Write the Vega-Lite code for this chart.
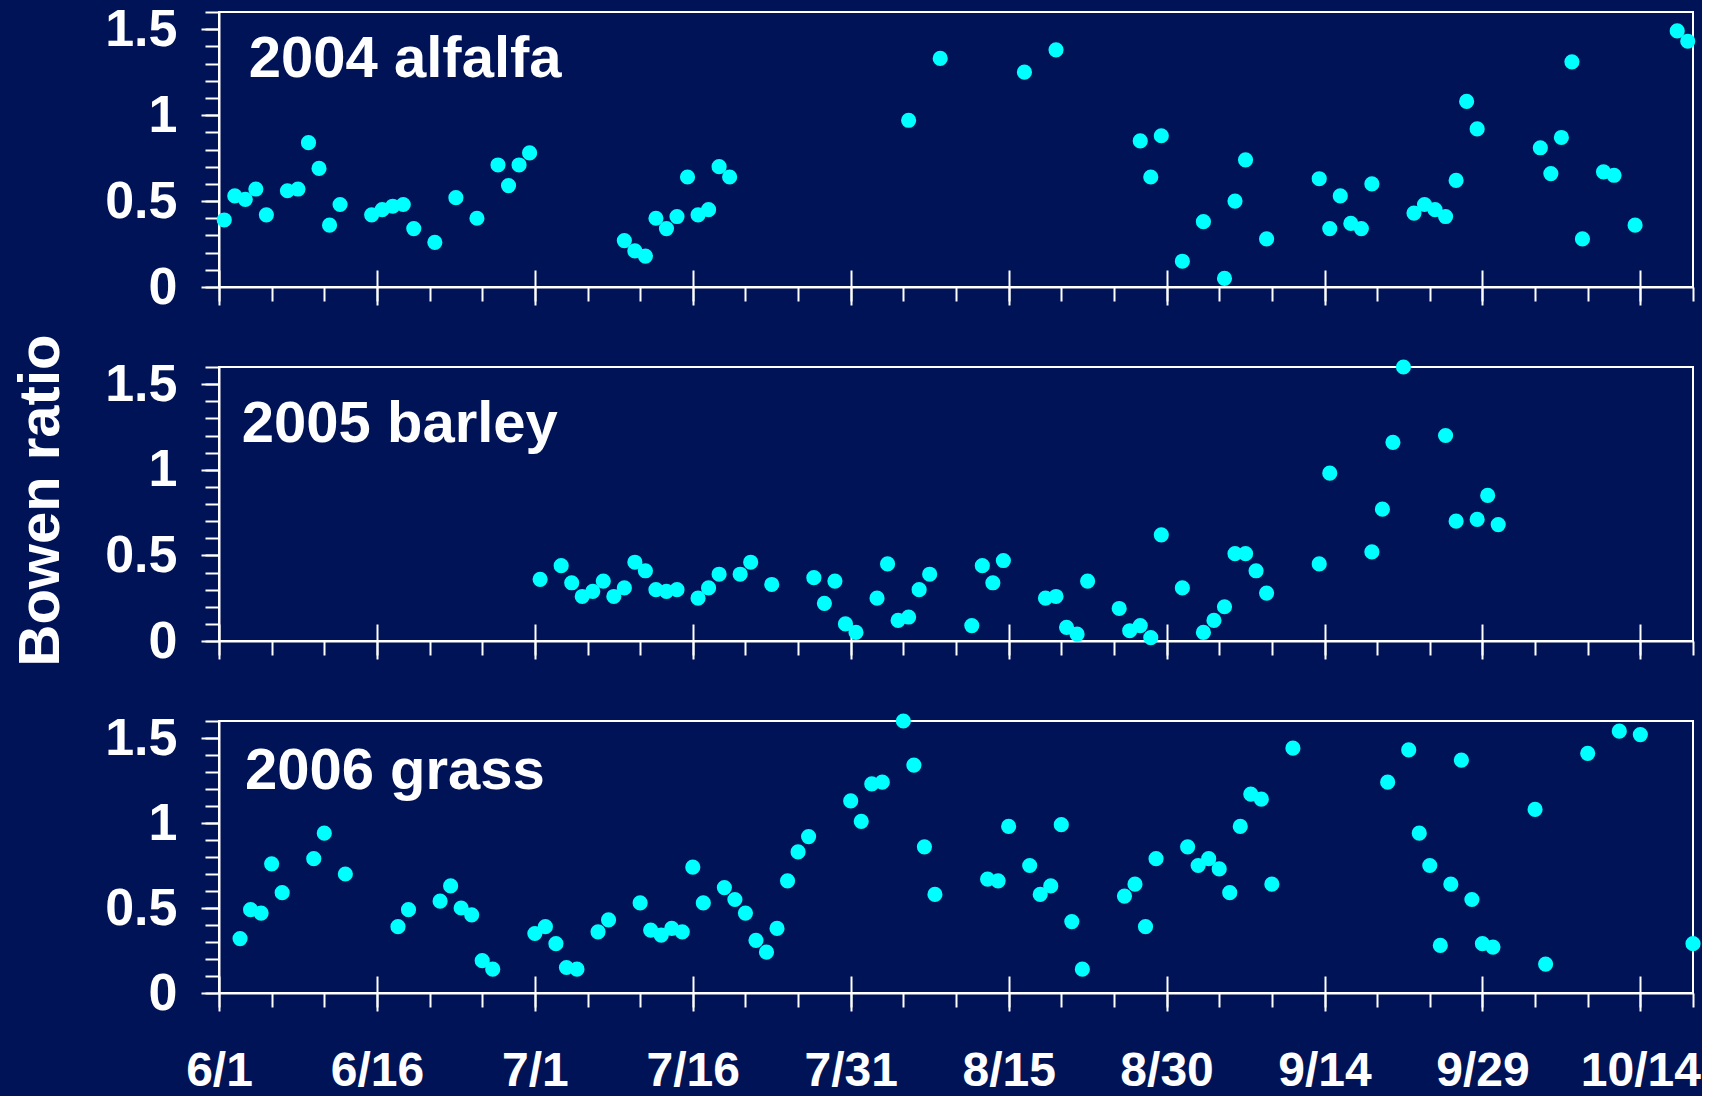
{
  "$schema": "https://vega.github.io/schema/vega-lite/v6.json",
  "background": "#001356",
  "padding": {"left": 11, "top": 2, "right": 0, "bottom": 0},
  "spacing": 80,
  "bounds": "flush",
  "config": {
    "view": {"stroke": "#ffffff", "strokeWidth": 2},
    "axis": {
      "grid": false,
      "domainColor": "#ffffff",
      "domainWidth": 2,
      "tickColor": "#ffffff",
      "tickWidth": 2,
      "labelColor": "#ffffff",
      "labelFont": "Liberation Sans",
      "labelFontWeight": "bold",
      "titleColor": "#ffffff",
      "titleFont": "Liberation Sans",
      "titleFontWeight": "bold",
      "titleFontSize": 58
    },
    "text": {"font": "Liberation Sans", "fontWeight": "bold", "fontSize": 58, "color": "#ffffff", "align": "left", "baseline": "alphabetic"},
    "point": {"filled": true, "size": 230, "color": "#00ffff", "opacity": 1, "strokeWidth": 0}
  },
  "datasets": {
    "alfalfa2004": [
      {"date": "2004-06-01T12:00Z", "ratio": 0.39},
      {"date": "2004-06-02T12:00Z", "ratio": 0.53},
      {"date": "2004-06-03T12:00Z", "ratio": 0.51},
      {"date": "2004-06-04T12:00Z", "ratio": 0.57},
      {"date": "2004-06-05T12:00Z", "ratio": 0.42},
      {"date": "2004-06-07T12:00Z", "ratio": 0.56},
      {"date": "2004-06-08T12:00Z", "ratio": 0.57},
      {"date": "2004-06-09T12:00Z", "ratio": 0.84},
      {"date": "2004-06-10T12:00Z", "ratio": 0.69},
      {"date": "2004-06-11T12:00Z", "ratio": 0.36},
      {"date": "2004-06-12T12:00Z", "ratio": 0.48},
      {"date": "2004-06-15T12:00Z", "ratio": 0.42},
      {"date": "2004-06-16T12:00Z", "ratio": 0.45},
      {"date": "2004-06-17T12:00Z", "ratio": 0.47},
      {"date": "2004-06-18T12:00Z", "ratio": 0.48},
      {"date": "2004-06-19T12:00Z", "ratio": 0.34},
      {"date": "2004-06-21T12:00Z", "ratio": 0.26},
      {"date": "2004-06-23T12:00Z", "ratio": 0.52},
      {"date": "2004-06-25T12:00Z", "ratio": 0.40},
      {"date": "2004-06-27T12:00Z", "ratio": 0.71},
      {"date": "2004-06-28T12:00Z", "ratio": 0.59},
      {"date": "2004-06-29T12:00Z", "ratio": 0.71},
      {"date": "2004-06-30T12:00Z", "ratio": 0.78},
      {"date": "2004-07-09T12:00Z", "ratio": 0.27},
      {"date": "2004-07-10T12:00Z", "ratio": 0.21},
      {"date": "2004-07-11T12:00Z", "ratio": 0.18},
      {"date": "2004-07-12T12:00Z", "ratio": 0.40},
      {"date": "2004-07-13T12:00Z", "ratio": 0.34},
      {"date": "2004-07-14T12:00Z", "ratio": 0.41},
      {"date": "2004-07-15T12:00Z", "ratio": 0.64},
      {"date": "2004-07-16T12:00Z", "ratio": 0.42},
      {"date": "2004-07-17T12:00Z", "ratio": 0.45},
      {"date": "2004-07-18T12:00Z", "ratio": 0.70},
      {"date": "2004-07-19T12:00Z", "ratio": 0.64},
      {"date": "2004-08-05T12:00Z", "ratio": 0.97},
      {"date": "2004-08-08T12:00Z", "ratio": 1.33},
      {"date": "2004-08-16T12:00Z", "ratio": 1.25},
      {"date": "2004-08-19T12:00Z", "ratio": 1.38},
      {"date": "2004-08-27T12:00Z", "ratio": 0.85},
      {"date": "2004-08-28T12:00Z", "ratio": 0.64},
      {"date": "2004-08-29T12:00Z", "ratio": 0.88},
      {"date": "2004-08-31T12:00Z", "ratio": 0.15},
      {"date": "2004-09-02T12:00Z", "ratio": 0.38},
      {"date": "2004-09-04T12:00Z", "ratio": 0.05},
      {"date": "2004-09-05T12:00Z", "ratio": 0.50},
      {"date": "2004-09-06T12:00Z", "ratio": 0.74},
      {"date": "2004-09-08T12:00Z", "ratio": 0.28},
      {"date": "2004-09-13T12:00Z", "ratio": 0.63},
      {"date": "2004-09-14T12:00Z", "ratio": 0.34},
      {"date": "2004-09-15T12:00Z", "ratio": 0.53},
      {"date": "2004-09-16T12:00Z", "ratio": 0.37},
      {"date": "2004-09-17T12:00Z", "ratio": 0.34},
      {"date": "2004-09-18T12:00Z", "ratio": 0.60},
      {"date": "2004-09-22T12:00Z", "ratio": 0.43},
      {"date": "2004-09-23T12:00Z", "ratio": 0.48},
      {"date": "2004-09-24T12:00Z", "ratio": 0.45},
      {"date": "2004-09-25T12:00Z", "ratio": 0.41},
      {"date": "2004-09-26T12:00Z", "ratio": 0.62},
      {"date": "2004-09-27T12:00Z", "ratio": 1.08},
      {"date": "2004-09-28T12:00Z", "ratio": 0.92},
      {"date": "2004-10-04T12:00Z", "ratio": 0.81},
      {"date": "2004-10-05T12:00Z", "ratio": 0.66},
      {"date": "2004-10-06T12:00Z", "ratio": 0.87},
      {"date": "2004-10-07T12:00Z", "ratio": 1.31},
      {"date": "2004-10-08T12:00Z", "ratio": 0.28},
      {"date": "2004-10-10T12:00Z", "ratio": 0.67},
      {"date": "2004-10-11T12:00Z", "ratio": 0.65},
      {"date": "2004-10-13T12:00Z", "ratio": 0.36},
      {"date": "2004-10-17T12:00Z", "ratio": 1.49},
      {"date": "2004-10-18T12:00Z", "ratio": 1.43}
    ],
    "barley2005": [
      {"date": "2005-07-01T12:00Z", "ratio": 0.36},
      {"date": "2005-07-03T12:00Z", "ratio": 0.44},
      {"date": "2005-07-04T12:00Z", "ratio": 0.34},
      {"date": "2005-07-05T12:00Z", "ratio": 0.26},
      {"date": "2005-07-06T12:00Z", "ratio": 0.29},
      {"date": "2005-07-07T12:00Z", "ratio": 0.35},
      {"date": "2005-07-08T12:00Z", "ratio": 0.26},
      {"date": "2005-07-09T12:00Z", "ratio": 0.31},
      {"date": "2005-07-10T12:00Z", "ratio": 0.46},
      {"date": "2005-07-11T12:00Z", "ratio": 0.41},
      {"date": "2005-07-12T12:00Z", "ratio": 0.30},
      {"date": "2005-07-13T12:00Z", "ratio": 0.29},
      {"date": "2005-07-14T12:00Z", "ratio": 0.30},
      {"date": "2005-07-16T12:00Z", "ratio": 0.25},
      {"date": "2005-07-17T12:00Z", "ratio": 0.31},
      {"date": "2005-07-18T12:00Z", "ratio": 0.39},
      {"date": "2005-07-20T12:00Z", "ratio": 0.39},
      {"date": "2005-07-21T12:00Z", "ratio": 0.46},
      {"date": "2005-07-23T12:00Z", "ratio": 0.33},
      {"date": "2005-07-27T12:00Z", "ratio": 0.37},
      {"date": "2005-07-28T12:00Z", "ratio": 0.22},
      {"date": "2005-07-29T12:00Z", "ratio": 0.35},
      {"date": "2005-07-30T12:00Z", "ratio": 0.10},
      {"date": "2005-07-31T12:00Z", "ratio": 0.05},
      {"date": "2005-08-02T12:00Z", "ratio": 0.25},
      {"date": "2005-08-03T12:00Z", "ratio": 0.45},
      {"date": "2005-08-04T12:00Z", "ratio": 0.12},
      {"date": "2005-08-05T12:00Z", "ratio": 0.14},
      {"date": "2005-08-06T12:00Z", "ratio": 0.30},
      {"date": "2005-08-07T12:00Z", "ratio": 0.39},
      {"date": "2005-08-11T12:00Z", "ratio": 0.09},
      {"date": "2005-08-12T12:00Z", "ratio": 0.44},
      {"date": "2005-08-13T12:00Z", "ratio": 0.34},
      {"date": "2005-08-14T12:00Z", "ratio": 0.47},
      {"date": "2005-08-18T12:00Z", "ratio": 0.25},
      {"date": "2005-08-19T12:00Z", "ratio": 0.26},
      {"date": "2005-08-20T12:00Z", "ratio": 0.08},
      {"date": "2005-08-21T12:00Z", "ratio": 0.04},
      {"date": "2005-08-22T12:00Z", "ratio": 0.35},
      {"date": "2005-08-25T12:00Z", "ratio": 0.19},
      {"date": "2005-08-26T12:00Z", "ratio": 0.06},
      {"date": "2005-08-27T12:00Z", "ratio": 0.09},
      {"date": "2005-08-28T12:00Z", "ratio": 0.02},
      {"date": "2005-08-29T12:00Z", "ratio": 0.62},
      {"date": "2005-08-31T12:00Z", "ratio": 0.31},
      {"date": "2005-09-02T12:00Z", "ratio": 0.05},
      {"date": "2005-09-03T12:00Z", "ratio": 0.12},
      {"date": "2005-09-04T12:00Z", "ratio": 0.20},
      {"date": "2005-09-05T12:00Z", "ratio": 0.51},
      {"date": "2005-09-06T12:00Z", "ratio": 0.51},
      {"date": "2005-09-07T12:00Z", "ratio": 0.41},
      {"date": "2005-09-08T12:00Z", "ratio": 0.28},
      {"date": "2005-09-13T12:00Z", "ratio": 0.45},
      {"date": "2005-09-14T12:00Z", "ratio": 0.98},
      {"date": "2005-09-18T12:00Z", "ratio": 0.52},
      {"date": "2005-09-19T12:00Z", "ratio": 0.77},
      {"date": "2005-09-20T12:00Z", "ratio": 1.16},
      {"date": "2005-09-21T12:00Z", "ratio": 1.60},
      {"date": "2005-09-25T12:00Z", "ratio": 1.20},
      {"date": "2005-09-26T12:00Z", "ratio": 0.70},
      {"date": "2005-09-28T12:00Z", "ratio": 0.71},
      {"date": "2005-09-29T12:00Z", "ratio": 0.85},
      {"date": "2005-09-30T12:00Z", "ratio": 0.68}
    ],
    "grass2006": [
      {"date": "2006-06-03T00:00Z", "ratio": 0.32},
      {"date": "2006-06-04T00:00Z", "ratio": 0.49},
      {"date": "2006-06-05T00:00Z", "ratio": 0.47},
      {"date": "2006-06-06T00:00Z", "ratio": 0.76},
      {"date": "2006-06-07T00:00Z", "ratio": 0.59},
      {"date": "2006-06-10T00:00Z", "ratio": 0.79},
      {"date": "2006-06-11T00:00Z", "ratio": 0.94},
      {"date": "2006-06-13T00:00Z", "ratio": 0.70},
      {"date": "2006-06-18T00:00Z", "ratio": 0.39},
      {"date": "2006-06-19T00:00Z", "ratio": 0.49},
      {"date": "2006-06-22T00:00Z", "ratio": 0.54},
      {"date": "2006-06-23T00:00Z", "ratio": 0.63},
      {"date": "2006-06-24T00:00Z", "ratio": 0.50},
      {"date": "2006-06-25T00:00Z", "ratio": 0.46},
      {"date": "2006-06-26T00:00Z", "ratio": 0.19},
      {"date": "2006-06-27T00:00Z", "ratio": 0.14},
      {"date": "2006-07-01T00:00Z", "ratio": 0.35},
      {"date": "2006-07-02T00:00Z", "ratio": 0.39},
      {"date": "2006-07-03T00:00Z", "ratio": 0.29},
      {"date": "2006-07-04T00:00Z", "ratio": 0.15},
      {"date": "2006-07-05T00:00Z", "ratio": 0.14},
      {"date": "2006-07-07T00:00Z", "ratio": 0.36},
      {"date": "2006-07-08T00:00Z", "ratio": 0.43},
      {"date": "2006-07-11T00:00Z", "ratio": 0.53},
      {"date": "2006-07-12T00:00Z", "ratio": 0.37},
      {"date": "2006-07-13T00:00Z", "ratio": 0.34},
      {"date": "2006-07-14T00:00Z", "ratio": 0.38},
      {"date": "2006-07-15T00:00Z", "ratio": 0.36},
      {"date": "2006-07-16T00:00Z", "ratio": 0.74},
      {"date": "2006-07-17T00:00Z", "ratio": 0.53},
      {"date": "2006-07-19T00:00Z", "ratio": 0.62},
      {"date": "2006-07-20T00:00Z", "ratio": 0.55},
      {"date": "2006-07-21T00:00Z", "ratio": 0.47},
      {"date": "2006-07-22T00:00Z", "ratio": 0.31},
      {"date": "2006-07-23T00:00Z", "ratio": 0.24},
      {"date": "2006-07-24T00:00Z", "ratio": 0.38},
      {"date": "2006-07-25T00:00Z", "ratio": 0.66},
      {"date": "2006-07-26T00:00Z", "ratio": 0.83},
      {"date": "2006-07-27T00:00Z", "ratio": 0.92},
      {"date": "2006-07-31T00:00Z", "ratio": 1.13},
      {"date": "2006-08-01T00:00Z", "ratio": 1.01},
      {"date": "2006-08-02T00:00Z", "ratio": 1.23},
      {"date": "2006-08-03T00:00Z", "ratio": 1.24},
      {"date": "2006-08-05T00:00Z", "ratio": 1.60},
      {"date": "2006-08-06T00:00Z", "ratio": 1.34},
      {"date": "2006-08-07T00:00Z", "ratio": 0.86},
      {"date": "2006-08-08T00:00Z", "ratio": 0.58},
      {"date": "2006-08-13T00:00Z", "ratio": 0.67},
      {"date": "2006-08-14T00:00Z", "ratio": 0.66},
      {"date": "2006-08-15T00:00Z", "ratio": 0.98},
      {"date": "2006-08-17T00:00Z", "ratio": 0.75},
      {"date": "2006-08-18T00:00Z", "ratio": 0.58},
      {"date": "2006-08-19T00:00Z", "ratio": 0.63},
      {"date": "2006-08-20T00:00Z", "ratio": 0.99},
      {"date": "2006-08-21T00:00Z", "ratio": 0.42},
      {"date": "2006-08-22T00:00Z", "ratio": 0.14},
      {"date": "2006-08-26T00:00Z", "ratio": 0.57},
      {"date": "2006-08-27T00:00Z", "ratio": 0.64},
      {"date": "2006-08-28T00:00Z", "ratio": 0.39},
      {"date": "2006-08-29T00:00Z", "ratio": 0.79},
      {"date": "2006-09-01T00:00Z", "ratio": 0.86},
      {"date": "2006-09-02T00:00Z", "ratio": 0.75},
      {"date": "2006-09-03T00:00Z", "ratio": 0.79},
      {"date": "2006-09-04T00:00Z", "ratio": 0.73},
      {"date": "2006-09-05T00:00Z", "ratio": 0.59},
      {"date": "2006-09-06T00:00Z", "ratio": 0.98},
      {"date": "2006-09-07T00:00Z", "ratio": 1.17},
      {"date": "2006-09-08T00:00Z", "ratio": 1.14},
      {"date": "2006-09-09T00:00Z", "ratio": 0.64},
      {"date": "2006-09-11T00:00Z", "ratio": 1.44},
      {"date": "2006-09-20T00:00Z", "ratio": 1.24},
      {"date": "2006-09-22T00:00Z", "ratio": 1.43},
      {"date": "2006-09-23T00:00Z", "ratio": 0.94},
      {"date": "2006-09-24T00:00Z", "ratio": 0.75},
      {"date": "2006-09-25T00:00Z", "ratio": 0.28},
      {"date": "2006-09-26T00:00Z", "ratio": 0.64},
      {"date": "2006-09-27T00:00Z", "ratio": 1.37},
      {"date": "2006-09-28T00:00Z", "ratio": 0.55},
      {"date": "2006-09-29T00:00Z", "ratio": 0.29},
      {"date": "2006-09-30T00:00Z", "ratio": 0.27},
      {"date": "2006-10-04T00:00Z", "ratio": 1.08},
      {"date": "2006-10-05T00:00Z", "ratio": 0.17},
      {"date": "2006-10-09T00:00Z", "ratio": 1.41},
      {"date": "2006-10-12T00:00Z", "ratio": 1.54},
      {"date": "2006-10-14T00:00Z", "ratio": 1.52},
      {"date": "2006-10-19T00:00Z", "ratio": 0.29}
    ]
  },
  "vconcat": [
    {
      "width": 1474,
      "height": 275,
      "data": {"name": "alfalfa2004"},
      "layer": [
        {
          "mark": "point",
          "encoding": {
            "x": {
              "field": "date", "type": "temporal",
              "scale": {"type": "utc", "nice": false, "domain": [{"year": 2004, "month": 6, "date": 1, "utc": true}, {"year": 2004, "month": 10, "date": 19, "utc": true}]},
              "axis": {
                "orient": "bottom", "title": null, "domain": false, "labels": false,
                "offset": -17, "tickSize": 35,
                "values": [
                  {"year": 2004, "month": 6, "date": 1, "utc": true}, {"year": 2004, "month": 6, "date": 16, "utc": true},
                  {"year": 2004, "month": 7, "date": 1, "utc": true}, {"year": 2004, "month": 7, "date": 16, "utc": true},
                  {"year": 2004, "month": 7, "date": 31, "utc": true}, {"year": 2004, "month": 8, "date": 15, "utc": true},
                  {"year": 2004, "month": 8, "date": 30, "utc": true}, {"year": 2004, "month": 9, "date": 14, "utc": true},
                  {"year": 2004, "month": 9, "date": 29, "utc": true}, {"year": 2004, "month": 10, "date": 14, "utc": true}
                ]
              }
            },
            "y": {
              "field": "ratio", "type": "quantitative",
              "scale": {"domain": [0, 1.6], "nice": false, "zero": false},
              "axis": {"orient": "left", "title": null, "values": [0, 0.5, 1, 1.5], "format": "~g", "tickSize": 18, "labelFontSize": 52, "labelPadding": 24}
            }
          }
        },
        {
          "mark": {"type": "point", "opacity": 0},
          "encoding": {
            "x": {
              "field": "date", "type": "temporal",
              "scale": {"type": "utc", "nice": false, "domain": [{"year": 2004, "month": 6, "date": 1, "utc": true}, {"year": 2004, "month": 10, "date": 19, "utc": true}]},
              "axis": {
                "orient": "bottom", "title": null, "labels": false, "tickSize": 14,
                "values": [
                  {"year": 2004, "month": 6, "date": 1, "utc": true}, {"year": 2004, "month": 6, "date": 6, "utc": true},
                  {"year": 2004, "month": 6, "date": 11, "utc": true}, {"year": 2004, "month": 6, "date": 16, "utc": true},
                  {"year": 2004, "month": 6, "date": 21, "utc": true}, {"year": 2004, "month": 6, "date": 26, "utc": true},
                  {"year": 2004, "month": 7, "date": 1, "utc": true}, {"year": 2004, "month": 7, "date": 6, "utc": true},
                  {"year": 2004, "month": 7, "date": 11, "utc": true}, {"year": 2004, "month": 7, "date": 16, "utc": true},
                  {"year": 2004, "month": 7, "date": 21, "utc": true}, {"year": 2004, "month": 7, "date": 26, "utc": true},
                  {"year": 2004, "month": 7, "date": 31, "utc": true}, {"year": 2004, "month": 8, "date": 5, "utc": true},
                  {"year": 2004, "month": 8, "date": 10, "utc": true}, {"year": 2004, "month": 8, "date": 15, "utc": true},
                  {"year": 2004, "month": 8, "date": 20, "utc": true}, {"year": 2004, "month": 8, "date": 25, "utc": true},
                  {"year": 2004, "month": 8, "date": 30, "utc": true}, {"year": 2004, "month": 9, "date": 4, "utc": true},
                  {"year": 2004, "month": 9, "date": 9, "utc": true}, {"year": 2004, "month": 9, "date": 14, "utc": true},
                  {"year": 2004, "month": 9, "date": 19, "utc": true}, {"year": 2004, "month": 9, "date": 24, "utc": true},
                  {"year": 2004, "month": 9, "date": 29, "utc": true}, {"year": 2004, "month": 10, "date": 4, "utc": true},
                  {"year": 2004, "month": 10, "date": 9, "utc": true}, {"year": 2004, "month": 10, "date": 14, "utc": true},
                  {"year": 2004, "month": 10, "date": 19, "utc": true}
                ]
              }
            },
            "y": {
              "field": "ratio", "type": "quantitative",
              "scale": {"domain": [0, 1.6], "nice": false, "zero": false},
              "axis": {"orient": "left", "title": null, "labels": false, "domain": false, "tickSize": 14, "values": [0, 0.1, 0.2, 0.3, 0.4, 0.5, 0.6, 0.7, 0.8, 0.9, 1, 1.1, 1.2, 1.3, 1.4, 1.5, 1.6]}
            }
          }
        },
        {
          "data": {"values": [{"crop": "2004 alfalfa"}]},
          "mark": "text",
          "encoding": {
            "x": {"datum": {"year": 2004, "month": 6, "date": 3, "hours": 20, "utc": true}, "type": "temporal", "scale": {"type": "utc"}, "axis": null},
            "y": {"datum": 1.22, "type": "quantitative", "axis": null},
            "text": {"field": "crop"}
          }
        }
      ],
      "resolve": {"axis": {"x": "independent", "y": "independent"}}
    },
    {
      "width": 1474,
      "height": 274,
      "data": {"name": "barley2005"},
      "layer": [
        {
          "mark": "point",
          "encoding": {
            "x": {
              "field": "date", "type": "temporal",
              "scale": {"type": "utc", "nice": false, "domain": [{"year": 2005, "month": 6, "date": 1, "utc": true}, {"year": 2005, "month": 10, "date": 19, "utc": true}]},
              "axis": {
                "orient": "bottom", "title": null, "domain": false, "labels": false,
                "offset": -17, "tickSize": 35,
                "values": [
                  {"year": 2005, "month": 6, "date": 1, "utc": true}, {"year": 2005, "month": 6, "date": 16, "utc": true},
                  {"year": 2005, "month": 7, "date": 1, "utc": true}, {"year": 2005, "month": 7, "date": 16, "utc": true},
                  {"year": 2005, "month": 7, "date": 31, "utc": true}, {"year": 2005, "month": 8, "date": 15, "utc": true},
                  {"year": 2005, "month": 8, "date": 30, "utc": true}, {"year": 2005, "month": 9, "date": 14, "utc": true},
                  {"year": 2005, "month": 9, "date": 29, "utc": true}, {"year": 2005, "month": 10, "date": 14, "utc": true}
                ]
              }
            },
            "y": {
              "field": "ratio", "type": "quantitative",
              "scale": {"domain": [0, 1.6], "nice": false, "zero": false},
              "axis": {"orient": "left", "title": "Bowen ratio", "titlePadding": 34, "titleY": 133, "values": [0, 0.5, 1, 1.5], "format": "~g", "tickSize": 18, "labelFontSize": 52, "labelPadding": 24}
            }
          }
        },
        {
          "mark": {"type": "point", "opacity": 0},
          "encoding": {
            "x": {
              "field": "date", "type": "temporal",
              "scale": {"type": "utc", "nice": false, "domain": [{"year": 2005, "month": 6, "date": 1, "utc": true}, {"year": 2005, "month": 10, "date": 19, "utc": true}]},
              "axis": {
                "orient": "bottom", "title": null, "labels": false, "tickSize": 14,
                "values": [
                  {"year": 2005, "month": 6, "date": 1, "utc": true}, {"year": 2005, "month": 6, "date": 6, "utc": true},
                  {"year": 2005, "month": 6, "date": 11, "utc": true}, {"year": 2005, "month": 6, "date": 16, "utc": true},
                  {"year": 2005, "month": 6, "date": 21, "utc": true}, {"year": 2005, "month": 6, "date": 26, "utc": true},
                  {"year": 2005, "month": 7, "date": 1, "utc": true}, {"year": 2005, "month": 7, "date": 6, "utc": true},
                  {"year": 2005, "month": 7, "date": 11, "utc": true}, {"year": 2005, "month": 7, "date": 16, "utc": true},
                  {"year": 2005, "month": 7, "date": 21, "utc": true}, {"year": 2005, "month": 7, "date": 26, "utc": true},
                  {"year": 2005, "month": 7, "date": 31, "utc": true}, {"year": 2005, "month": 8, "date": 5, "utc": true},
                  {"year": 2005, "month": 8, "date": 10, "utc": true}, {"year": 2005, "month": 8, "date": 15, "utc": true},
                  {"year": 2005, "month": 8, "date": 20, "utc": true}, {"year": 2005, "month": 8, "date": 25, "utc": true},
                  {"year": 2005, "month": 8, "date": 30, "utc": true}, {"year": 2005, "month": 9, "date": 4, "utc": true},
                  {"year": 2005, "month": 9, "date": 9, "utc": true}, {"year": 2005, "month": 9, "date": 14, "utc": true},
                  {"year": 2005, "month": 9, "date": 19, "utc": true}, {"year": 2005, "month": 9, "date": 24, "utc": true},
                  {"year": 2005, "month": 9, "date": 29, "utc": true}, {"year": 2005, "month": 10, "date": 4, "utc": true},
                  {"year": 2005, "month": 10, "date": 9, "utc": true}, {"year": 2005, "month": 10, "date": 14, "utc": true},
                  {"year": 2005, "month": 10, "date": 19, "utc": true}
                ]
              }
            },
            "y": {
              "field": "ratio", "type": "quantitative",
              "scale": {"domain": [0, 1.6], "nice": false, "zero": false},
              "axis": {"orient": "left", "title": null, "labels": false, "domain": false, "tickSize": 14, "values": [0, 0.1, 0.2, 0.3, 0.4, 0.5, 0.6, 0.7, 0.8, 0.9, 1, 1.1, 1.2, 1.3, 1.4, 1.5, 1.6]}
            }
          }
        },
        {
          "data": {"values": [{"crop": "2005 barley"}]},
          "mark": "text",
          "encoding": {
            "x": {"datum": {"year": 2005, "month": 6, "date": 3, "hours": 4, "utc": true}, "type": "temporal", "scale": {"type": "utc"}, "axis": null},
            "y": {"datum": 1.16, "type": "quantitative", "axis": null},
            "text": {"field": "crop"}
          }
        }
      ],
      "resolve": {"axis": {"x": "independent", "y": "independent"}}
    },
    {
      "width": 1474,
      "height": 272,
      "data": {"name": "grass2006"},
      "layer": [
        {
          "mark": "point",
          "encoding": {
            "x": {
              "field": "date", "type": "temporal",
              "scale": {"type": "utc", "nice": false, "domain": [{"year": 2006, "month": 6, "date": 1, "utc": true}, {"year": 2006, "month": 10, "date": 19, "utc": true}]},
              "axis": {
                "orient": "bottom", "title": null, "domain": false, "labels": true,
                "offset": -17, "tickSize": 35,
                "labelExpr": "utcFormat(datum.value, '%-m/%-d')",
                "labelFontSize": 48, "labelPadding": 36, "labelFlush": false, "labelOverlap": false,
                "values": [
                  {"year": 2006, "month": 6, "date": 1, "utc": true}, {"year": 2006, "month": 6, "date": 16, "utc": true},
                  {"year": 2006, "month": 7, "date": 1, "utc": true}, {"year": 2006, "month": 7, "date": 16, "utc": true},
                  {"year": 2006, "month": 7, "date": 31, "utc": true}, {"year": 2006, "month": 8, "date": 15, "utc": true},
                  {"year": 2006, "month": 8, "date": 30, "utc": true}, {"year": 2006, "month": 9, "date": 14, "utc": true},
                  {"year": 2006, "month": 9, "date": 29, "utc": true}, {"year": 2006, "month": 10, "date": 14, "utc": true}
                ]
              }
            },
            "y": {
              "field": "ratio", "type": "quantitative",
              "scale": {"domain": [0, 1.6], "nice": false, "zero": false},
              "axis": {"orient": "left", "title": null, "values": [0, 0.5, 1, 1.5], "format": "~g", "tickSize": 18, "labelFontSize": 52, "labelPadding": 24}
            }
          }
        },
        {
          "mark": {"type": "point", "opacity": 0},
          "encoding": {
            "x": {
              "field": "date", "type": "temporal",
              "scale": {"type": "utc", "nice": false, "domain": [{"year": 2006, "month": 6, "date": 1, "utc": true}, {"year": 2006, "month": 10, "date": 19, "utc": true}]},
              "axis": {
                "orient": "bottom", "title": null, "labels": false, "tickSize": 14,
                "values": [
                  {"year": 2006, "month": 6, "date": 1, "utc": true}, {"year": 2006, "month": 6, "date": 6, "utc": true},
                  {"year": 2006, "month": 6, "date": 11, "utc": true}, {"year": 2006, "month": 6, "date": 16, "utc": true},
                  {"year": 2006, "month": 6, "date": 21, "utc": true}, {"year": 2006, "month": 6, "date": 26, "utc": true},
                  {"year": 2006, "month": 7, "date": 1, "utc": true}, {"year": 2006, "month": 7, "date": 6, "utc": true},
                  {"year": 2006, "month": 7, "date": 11, "utc": true}, {"year": 2006, "month": 7, "date": 16, "utc": true},
                  {"year": 2006, "month": 7, "date": 21, "utc": true}, {"year": 2006, "month": 7, "date": 26, "utc": true},
                  {"year": 2006, "month": 7, "date": 31, "utc": true}, {"year": 2006, "month": 8, "date": 5, "utc": true},
                  {"year": 2006, "month": 8, "date": 10, "utc": true}, {"year": 2006, "month": 8, "date": 15, "utc": true},
                  {"year": 2006, "month": 8, "date": 20, "utc": true}, {"year": 2006, "month": 8, "date": 25, "utc": true},
                  {"year": 2006, "month": 8, "date": 30, "utc": true}, {"year": 2006, "month": 9, "date": 4, "utc": true},
                  {"year": 2006, "month": 9, "date": 9, "utc": true}, {"year": 2006, "month": 9, "date": 14, "utc": true},
                  {"year": 2006, "month": 9, "date": 19, "utc": true}, {"year": 2006, "month": 9, "date": 24, "utc": true},
                  {"year": 2006, "month": 9, "date": 29, "utc": true}, {"year": 2006, "month": 10, "date": 4, "utc": true},
                  {"year": 2006, "month": 10, "date": 9, "utc": true}, {"year": 2006, "month": 10, "date": 14, "utc": true},
                  {"year": 2006, "month": 10, "date": 19, "utc": true}
                ]
              }
            },
            "y": {
              "field": "ratio", "type": "quantitative",
              "scale": {"domain": [0, 1.6], "nice": false, "zero": false},
              "axis": {"orient": "left", "title": null, "labels": false, "domain": false, "tickSize": 14, "values": [0, 0.1, 0.2, 0.3, 0.4, 0.5, 0.6, 0.7, 0.8, 0.9, 1, 1.1, 1.2, 1.3, 1.4, 1.5, 1.6]}
            }
          }
        },
        {
          "data": {"values": [{"crop": "2006 grass"}]},
          "mark": "text",
          "encoding": {
            "x": {"datum": {"year": 2006, "month": 6, "date": 3, "hours": 11, "utc": true}, "type": "temporal", "scale": {"type": "utc"}, "axis": null},
            "y": {"datum": 1.2, "type": "quantitative", "axis": null},
            "text": {"field": "crop"}
          }
        }
      ],
      "resolve": {"axis": {"x": "independent", "y": "independent"}}
    }
  ]
}
